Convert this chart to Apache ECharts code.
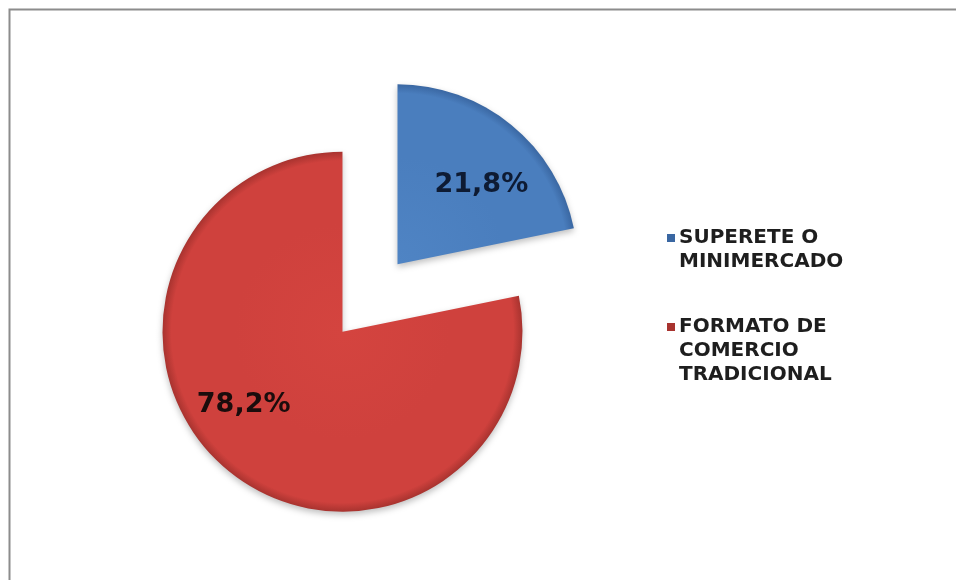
<!DOCTYPE html>
<html>
<head>
<meta charset="utf-8">
<script src="https://cdn.jsdelivr.net/npm/echarts@6/dist/echarts.min.js"></script>
<style>
  html, body { margin: 0; padding: 0; background: #ffffff; }
  #chart { width: 956px; height: 580px; }
</style>
</head>
<body>
<div id="chart"></div>
<script>
// Share of outlets by store format
const categories = ['SUPERETE O\nMINIMERCADO', 'FORMATO DE\nCOMERCIO\nTRADICIONAL'];
const shares = [21.8, 78.2];

const palette = [
  { light: '#4f84c4', mid: '#4a7ebe', dark: '#3a67a2', label: '#0e1b33' },
  { light: '#d4443f', mid: '#cf413d', dark: '#a8332f', label: '#1a0c0c' }
];

// Small nudges that place each value label where it reads best inside its slice
const labelNudge = [[25, -7], [-40, 1]];

const cx = 370, cy = 298, radius = 180;

// Flat face with a darker bevelled rim; coordinates are in each slice's own frame
function sliceFill(p) {
  return {
    type: 'radial', x: cx, y: cy, r: radius, global: true,
    colorStops: [
      { offset: 0, color: p.light },
      { offset: 0.6, color: p.mid },
      { offset: 0.95, color: p.mid },
      { offset: 1, color: p.dark }
    ]
  };
}

const pieData = categories.map((name, i) => ({
  name: name,
  value: shares[i],
  selected: true,
  itemStyle: { color: sliceFill(palette[i]) },
  label: { color: palette[i].label }
}));

// Legend text: blank lead-in lines keep the swatch level with the first line
function legendText(name) {
  const lines = name.split('\n');
  return '\n'.repeat(lines.length - 1) + name;
}

const chart = echarts.init(document.getElementById('chart'), null, { renderer: 'canvas' });
chart.setOption({
  animation: false,
  backgroundColor: '#ffffff',
  color: palette.map(p => p.mid),
  graphic: [{
    type: 'rect',
    shape: { x: 9.5, y: 9.5, width: 1000, height: 600 },
    style: { fill: 'none', stroke: '#8c8c8c', lineWidth: 2 },
    silent: true, z: -1
  }],
  legend: {
    orient: 'vertical',
    left: 667,
    top: 202,
    padding: 0,
    itemWidth: 8,
    itemHeight: 8,
    itemGap: -7,
    icon: 'rect',
    selectedMode: false,
    formatter: legendText,
    textStyle: {
      fontFamily: 'DejaVu Sans',
      fontWeight: 'bold',
      fontSize: 20,
      lineHeight: 24,
      color: '#1e1e1e',
      padding: [0, 0, 0, -1]
    },
    data: categories
  },
  series: [{
    type: 'pie',
    center: [cx, cy],
    radius: radius,
    startAngle: 90,
    clockwise: true,
    selectedMode: 'multiple',
    selectedOffset: 43.5,
    avoidLabelOverlap: false,
    emphasis: { disabled: true },
    itemStyle: {
      shadowBlur: 6,
      shadowColor: 'rgba(0,0,0,0.25)',
      shadowOffsetY: 3
    },
    label: {
      show: true,
      position: 'inside',
      fontFamily: 'DejaVu Sans',
      fontWeight: 'bold',
      fontSize: 27,
      formatter: p => p.value.toFixed(1).replace('.', ',') + '%'
    },
    labelLine: { show: false },
    labelLayout: p => ({ dx: labelNudge[p.dataIndex][0], dy: labelNudge[p.dataIndex][1] }),
    data: pieData
  }]
});
</script>
</body>
</html>
